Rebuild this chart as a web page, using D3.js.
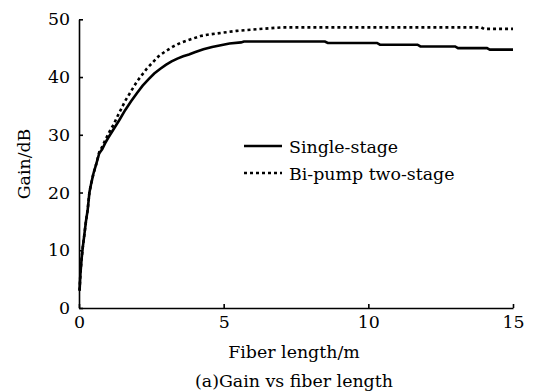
<!DOCTYPE html>
<html>
<head>
<meta charset="utf-8">
<script src="https://cdn.jsdelivr.net/npm/d3@7"></script>
<style>
  html, body { margin: 0; padding: 0; background: #fff; }
  svg { display: block; }
</style>
</head>
<body>
<script>
// ---- data ----
const xTicks = [0, 5, 10, 15];
const yTicks = [0, 10, 20, 30, 40, 50];
const seriesNames = ["Single-stage", "Bi-pump two-stage"];

const singleX = [0.02, 0.05, 0.09, 0.13, 0.18, 0.24, 0.30, 0.36, 0.42, 0.5, 0.6, 0.7, 0.8, 0.9, 1.0,
  1.2, 1.4, 1.6, 1.8, 2.0, 2.2, 2.4, 2.6, 2.8, 3.0, 3.2, 3.4, 3.6, 3.8, 4.0, 4.3, 4.6, 4.9, 5.2, 5.6, 5.7,
  8.5, 8.6, 10.3, 10.4, 11.7, 11.8, 13.0, 13.1, 14.1, 14.2, 15];
const singleY = [3, 6, 8.5, 10.5, 12.5, 15, 17, 20, 21.5, 23.3, 25, 26.8, 27.5, 28.5, 29.4,
  31.0, 32.6, 34.3, 35.8, 37.2, 38.5, 39.6, 40.6, 41.4, 42.1, 42.7, 43.2, 43.6, 43.9, 44.3, 44.8, 45.2, 45.5, 45.8, 46.0, 46.15,
  46.15, 45.9, 45.9, 45.6, 45.6, 45.3, 45.3, 45.0, 45.0, 44.75, 44.75];

const biX = [0.02, 0.05, 0.09, 0.13, 0.18, 0.24, 0.30, 0.36, 0.42, 0.5, 0.6, 0.7, 0.8, 0.9, 1.0, 1.1,
  1.2, 1.3, 1.6, 2.0, 2.35, 2.75, 3.0, 3.26, 3.5, 3.84, 4.2, 4.53, 5.0, 5.45, 6.2, 7.0, 13.9, 14.0, 15];
const biY = [3, 6, 8.5, 10.5, 12.5, 15, 17, 20, 21.5, 23.3, 25, 27.0, 27.9, 29.0, 30.0, 31.0,
  31.8, 32.9, 35.9, 39.2, 41.5, 43.6, 44.5, 45.3, 45.9, 46.5, 47.1, 47.4, 47.7, 48.0, 48.3, 48.6, 48.6, 48.35, 48.35];

// ---- font ----
const FONT = '"DejaVu Serif", "Liberation Serif", serif';
// size the font so "Single-stage" is roughly as wide as in the reference (slightly larger for glyph height)
const ctx = document.createElement("canvas").getContext("2d");
ctx.font = `20px ${FONT}`;
const wRef = ctx.measureText("Single-stage").width;
const fs = Math.min(21, Math.max(15, 1.05 * 20 * 104 / wRef));

// ---- layout ----
const W = 534, H = 392;
const mLeft = 79, mRight = 513, mTop = 19.3, mBottom = 308;

const svg = d3.select("body").append("svg").attr("width", W).attr("height", H)
  .style("font-family", FONT);

const x = d3.scaleLinear().domain([0, 15]).range([mLeft, mRight]);
const y = d3.scaleLinear().domain([0, 50]).range([mBottom, mTop]);

// axes
const xAxis = d3.axisBottom(x).tickValues(xTicks).tickSizeInner(-4).tickSizeOuter(0).tickPadding(8);
const yAxis = d3.axisLeft(y).tickValues(yTicks).tickSizeInner(-4).tickSizeOuter(0).tickPadding(9);

const gx = svg.append("g").attr("transform", `translate(0,${mBottom})`).call(xAxis);
const gy = svg.append("g").attr("transform", `translate(${mLeft},0)`).call(yAxis);
[gx, gy].forEach(g => {
  g.attr("font-family", null).attr("font-size", null);
  g.selectAll("path.domain").attr("stroke", "#000").attr("stroke-width", 1.6);
  g.selectAll(".tick line").attr("stroke", "#000").attr("stroke-width", 1.6);
  g.selectAll(".tick text").style("font-family", FONT).style("font-size", fs + "px").attr("fill", "#000");
});

// lines
const line = d3.line().x(d => x(d[0])).y(d => y(d[1]));
const singleData = singleX.map((v, i) => [v, singleY[i]]);
const biData = biX.map((v, i) => [v, biY[i]]);

svg.append("path").datum(biData)
  .attr("d", line).attr("fill", "none").attr("stroke", "#000")
  .attr("stroke-width", 2.6).attr("stroke-dasharray", "3,3");
svg.append("path").datum(singleData)
  .attr("d", line).attr("fill", "none").attr("stroke", "#000")
  .attr("stroke-width", 2.6);

// legend
const lg = svg.append("g");
const legendRows = [
  { name: seriesNames[0], dash: null, ly: 146 },
  { name: seriesNames[1], dash: "3,3", ly: 173 }
];
legendRows.forEach(r => {
  lg.append("line").attr("x1", 244).attr("x2", 282).attr("y1", r.ly).attr("y2", r.ly)
    .attr("stroke", "#000").attr("stroke-width", 2.6)
    .attr("stroke-dasharray", r.dash);
  lg.append("text").attr("x", 289).attr("y", r.ly + 7)
    .style("font-family", FONT).style("font-size", fs + "px").attr("fill", "#000").text(r.name);
});

// axis titles
svg.append("text").attr("x", (mLeft + mRight) / 2 - 2).attr("y", 357.5)
  .attr("text-anchor", "middle").style("font-family", FONT).style("font-size", fs + "px").text("Fiber length/m");
svg.append("text").attr("transform", "translate(30,164) rotate(-90)")
  .attr("text-anchor", "middle").style("font-family", FONT).style("font-size", fs + "px").text("Gain/dB");

// caption
svg.append("text").attr("x", 294).attr("y", 387)
  .attr("text-anchor", "middle").style("font-family", FONT).style("font-size", fs + "px").text("(a)Gain vs fiber length");
</script>
</body>
</html>
